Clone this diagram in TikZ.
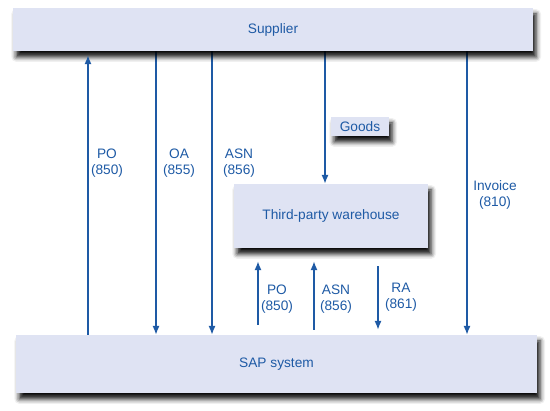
\documentclass[tikz,border=0pt]{standalone}
\usepackage{fontspec}
\setmainfont{Liberation Sans}
\usetikzlibrary{arrows.meta, positioning, shadows.blur, backgrounds}
\definecolor{sapblue}{RGB}{30,90,165}
\definecolor{boxfill}{RGB}{223,227,243}

\begin{document}
\begin{tikzpicture}[x=0.02cm, y=-0.02cm,
  sysbox/.style={fill=boxfill, text=sapblue, font=\fontsize{7.8}{9.5}\selectfont, inner sep=0pt,
    blur shadow={shadow xshift=1.8pt, shadow yshift=-3.4pt, shadow blur radius=2.8pt, shadow opacity=95}},
  flow/.style={-{Latex[length=5pt, width=4pt]}, sapblue, line width=0.7pt},
  msg/.style={text=sapblue, font=\fontsize{7.8}{9.3}\selectfont, align=center, inner sep=0pt},
]
\useasboundingbox (0,0) rectangle (550,410);

% Systems
\node[sysbox, minimum width=10.4cm, minimum height=0.86cm] (sup) at (273,29.5) {Supplier};
\node[sysbox, minimum width=10.42cm, minimum height=1.16cm] (sap) at (276.5,364) {SAP system};
\node[sysbox, minimum width=3.88cm, minimum height=1.28cm] (wh) at (331,216) {Third-party warehouse};
\node[sysbox, minimum width=1.16cm, minimum height=0.38cm] (goods) at (360,126.5) {Goods};

% Arrow positions
\foreach \name/\xx in {xpo/88, xoa/156, xasn/212, xgoods/325, xinv/467, xwpo/258, xwasn/314, xra/378}
  \coordinate (\name) at (\xx,0);

\begin{scope}[on background layer]
% Supplier <-> SAP
\draw[flow] (sup.south -| xoa) -- (sap.north -| xoa);
\draw[flow] (sup.south -| xasn) -- (sap.north -| xasn);
\draw[flow] (sup.south -| xinv) -- (sap.north -| xinv);
\draw[flow] (sup.south -| xgoods) -- (wh.north -| xgoods);

% Warehouse <-> SAP
\draw[flow, shorten <=0.2cm, shorten >=0.26cm] (sap.north -| xwpo) -- (wh.south -| xwpo);
\draw[flow, shorten <=0.1cm, shorten >=0.26cm] (sap.north -| xwasn) -- (wh.south -| xwasn);
\draw[flow, shorten <=0.36cm, shorten >=0.1cm] (wh.south -| xra) -- (sap.north -| xra);
\end{scope}
\draw[flow, shorten >=0.08cm] (sap.north -| xpo) -- (sup.south -| xpo);

% Message labels
\node[msg] (lpo) at (107,163) {PO\\(850)};
\node[msg] (loa) at (179,163) {OA\\(855)};
\node[msg] (lasn) at (239,163) {ASN\\(856)};
\node[msg] (linv) at (495,195) {Invoice\\(810)};
\node[msg] (lwpo) at (277,299) {PO\\(850)};
\node[msg] (lwasn) at (336,299) {ASN\\(856)};
\node[msg] (lra) at (401,297) {RA\\(861)};
\end{tikzpicture}
\end{document}
